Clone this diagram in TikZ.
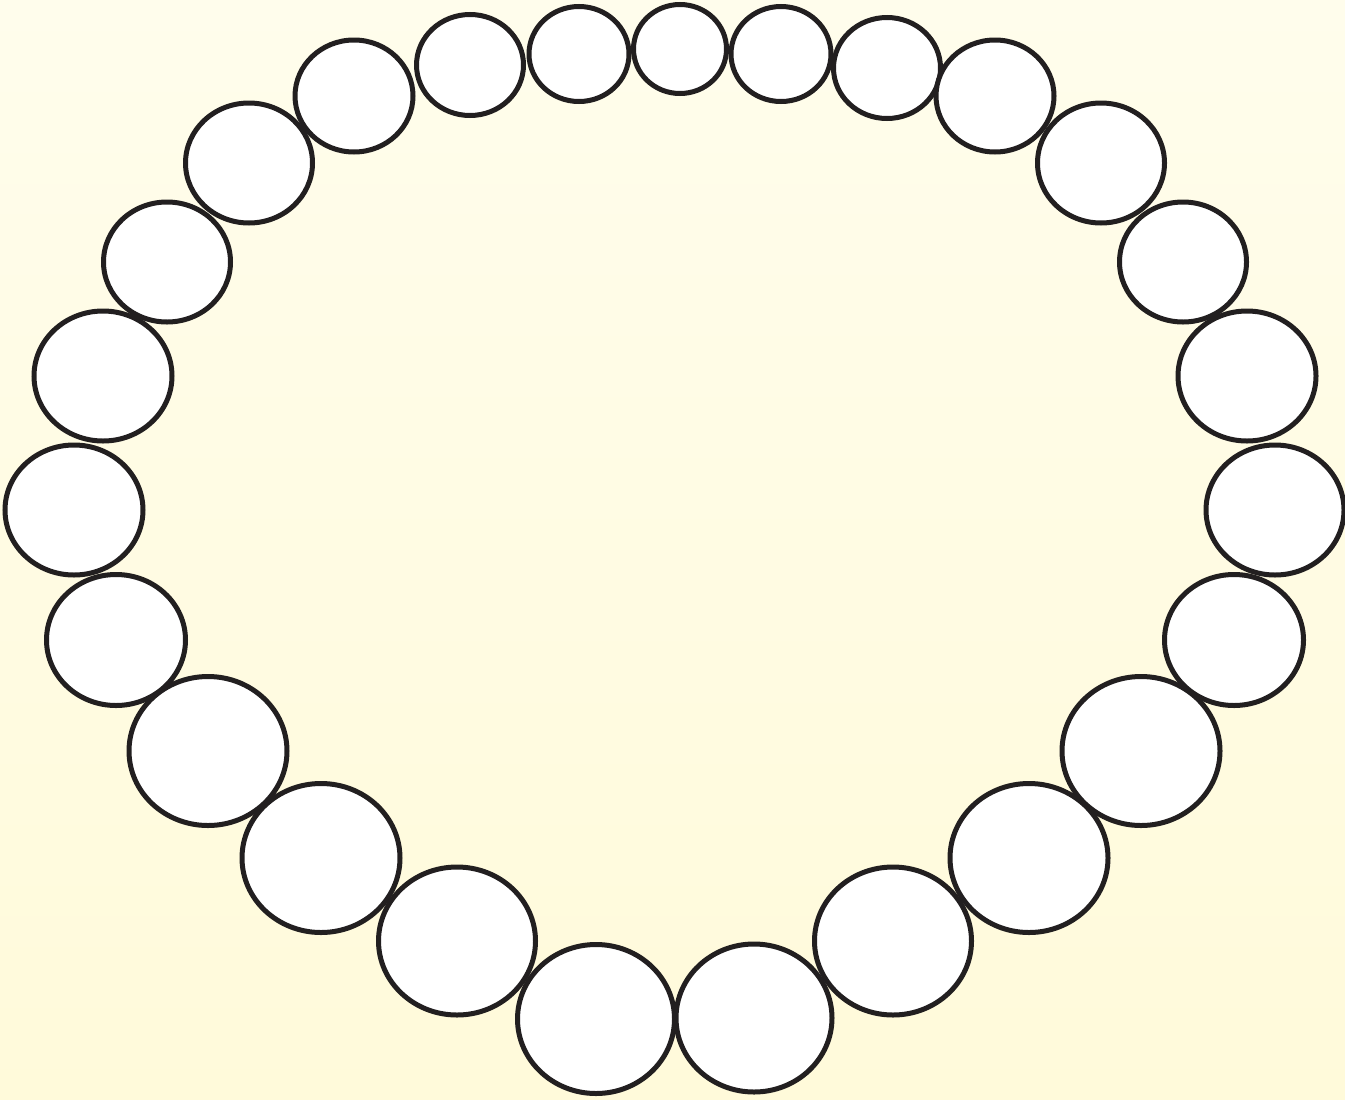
\documentclass[tikz,border=0pt]{standalone}
\usepackage{tikz}
\usetikzlibrary{shapes.geometric}

\definecolor{paperTop}{RGB}{255,253,236}
\definecolor{paperBottom}{RGB}{255,250,218}
\definecolor{ink}{RGB}{34,31,32}

\begin{document}
\begin{tikzpicture}[x=0.02cm, y=-0.02cm,
    pearl/.style={ellipse, draw=ink, fill=white, line width=0.1cm, inner sep=0pt, outer sep=0pt}]

        % Background
        \shade[top color=paperTop, bottom color=paperBottom] (0,0) rectangle (1345,1099);
        \useasboundingbox (0,0) rectangle (1345,1099);

        % Size of one pixel of the layout
        \def\unit{0.02}

        % Pearls around the ring: x / y / half width / half height
        \foreach \x/\y/\rx/\ry [count=\i] in {
            470/65/56/53, 579/54/52.5/50, 680/49/49/47, 781/54/52.5/50, 887/68/56/53,
            995/96/61.5/58.5, 1101/163/66/62.5, 1183/262/66/62.5, 1247/376/71.5/67.5,
            1275/510/71.5/67.5, 1234/640/72/68, 1141/751/81.5/77, 1029/858/81.5/77,
            893/941/81/76.5, 754/1018/80.5/76.5, 596/1019/81/77, 457/941/81/76.5,
            321/858/81.5/77, 208/751/81.5/77, 116/640/72/68, 74/510/71.5/67.5,
            103/376/71.5/67.5, 167/262/66/62.5, 249/163/66/62.5, 354/96/61.5/58.5} {
          \node[pearl, minimum width={(2*\rx-5)*\unit cm}, minimum height={(2*\ry-5)*\unit cm}] (p\i) at (\x,\y) {};
        }

      \end{tikzpicture}
\end{document}
